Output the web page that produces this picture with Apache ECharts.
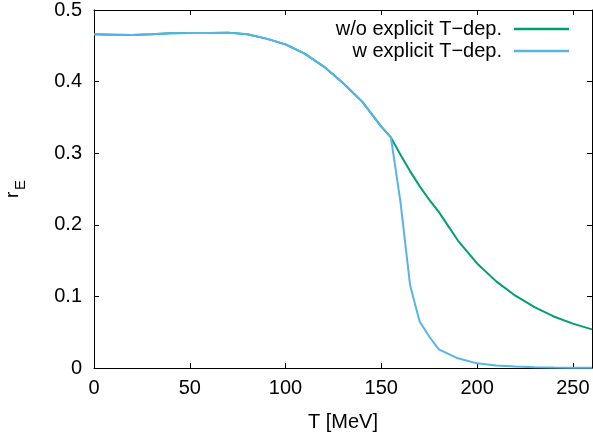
<!DOCTYPE html>
<html>
<head>
<meta charset="utf-8">
<script src="https://cdn.jsdelivr.net/npm/echarts@6/dist/echarts.min.js"></script>
<style>
html,body{margin:0;padding:0;background:#fff;}
#c{width:593px;height:438px;}
</style>
</head>
<body>
<div id="c"></div>
<script>
// Temperature grid (MeV)
var temps = [0, 10, 20, 30, 40, 50, 60, 70, 80, 90, 100, 110, 120, 130, 140, 150, 155, 160, 165, 170, 175, 180, 190, 200, 210, 220, 230, 240, 250, 260];
// r_E without explicit T-dependence
var rWithout = [0.466, 0.4655, 0.465, 0.466, 0.4675, 0.4678, 0.468, 0.4684, 0.466, 0.460, 0.452, 0.439, 0.421, 0.398, 0.372, 0.337, 0.322, 0.298, 0.275, 0.254, 0.235, 0.218, 0.178, 0.146, 0.121, 0.101, 0.085, 0.072, 0.062, 0.054];
// r_E with explicit T-dependence
var rWith = [0.466, 0.4655, 0.465, 0.466, 0.4675, 0.4678, 0.468, 0.4684, 0.466, 0.460, 0.452, 0.439, 0.421, 0.398, 0.372, 0.337, 0.322, 0.232, 0.116, 0.065, 0.044, 0.026, 0.0135, 0.0065, 0.0035, 0.002, 0.0012, 0.0008, 0.0005, 0.0003];
var xTicks = [0, 50, 100, 150, 200, 250];
var yTicks = [0, 0.1, 0.2, 0.3, 0.4, 0.5];
var seriesNames = ['w/o explicit T\u2212dep.', 'w explicit T\u2212dep.'];
var colors = ['#009e73', '#56b4e9'];

function pairs(xs, ys) { return xs.map(function (x, i) { return [x, ys[i]]; }); }

var FONT = 'Liberation Sans, Arial, sans-serif';
var chart = echarts.init(document.getElementById('c'), null, { renderer: 'canvas' });
var axisLineStyle = { show: true, onZero: false, lineStyle: { color: '#000', width: 1 } };
var tickStyle = { color: '#000', width: 1 };
chart.setOption({
  animation: false,
  backgroundColor: '#fff',
  grid: { left: 94, right: 1, top: 9, bottom: 70, show: false },
  legend: {
    orient: 'vertical',
    align: 'right',
    right: 19,
    top: 14,
    icon: 'rect',
    itemWidth: 55,
    itemHeight: 2.5,
    itemGap: 2,
    textStyle: { fontFamily: FONT, fontSize: 20, color: '#000', lineHeight: 20, padding: [0, 7, 0, 0] },
    data: seriesNames
  },
  xAxis: [
    {
      type: 'value', min: 0, max: 260, interval: 50, position: 'bottom',
      name: 'T [MeV]', nameLocation: 'middle', nameGap: 44,
      nameTextStyle: { fontFamily: FONT, fontSize: 20, color: '#000' },
      axisLine: axisLineStyle, splitLine: { show: false },
      axisTick: { show: true, inside: true, length: 5, customValues: xTicks, lineStyle: tickStyle },
      axisLabel: { show: true, margin: 10, customValues: xTicks, fontFamily: FONT, fontSize: 20, color: '#000' }
    },
    {
      type: 'value', min: 0, max: 260, interval: 50, position: 'top',
      axisLine: axisLineStyle, splitLine: { show: false },
      axisTick: { show: true, inside: true, length: 5, customValues: xTicks, lineStyle: tickStyle },
      axisLabel: { show: false }
    }
  ],
  yAxis: [
    {
      type: 'value', min: 0, max: 0.5, interval: 0.1, position: 'left',
      axisLine: axisLineStyle, splitLine: { show: false },
      axisTick: { show: true, inside: true, length: 5, customValues: yTicks, lineStyle: tickStyle },
      axisLabel: { show: true, margin: 12, customValues: yTicks, fontFamily: FONT, fontSize: 20, color: '#000',
        formatter: function (v) { return String(Math.round(v * 10) / 10); } }
    },
    {
      type: 'value', min: 0, max: 0.5, interval: 0.1, position: 'right',
      axisLine: axisLineStyle, splitLine: { show: false },
      axisTick: { show: true, inside: true, length: 5, customValues: yTicks, lineStyle: tickStyle },
      axisLabel: { show: false }
    }
  ],
  series: [
    { name: seriesNames[0], type: 'line', data: pairs(temps, rWithout), symbol: 'none', smooth: false,
      color: colors[0], lineStyle: { color: colors[0], width: 2 }, z: 2 },
    { name: seriesNames[1], type: 'line', data: pairs(temps, rWith), symbol: 'none', smooth: false,
      color: colors[1], lineStyle: { color: colors[1], width: 2 }, z: 3 }
  ],
  graphic: [
    {
      type: 'group', x: 22, y: 198, rotation: Math.PI / 2,
      children: [
        { type: 'text', x: 0, y: 0, style: { text: 'r', font: '19px ' + FONT, fill: '#000', textAlign: 'left', textVerticalAlign: 'bottom' } },
        { type: 'text', x: 8, y: 6, style: { text: 'E', font: '15px ' + FONT, fill: '#000', textAlign: 'left', textVerticalAlign: 'bottom' } }
      ]
    }
  ]
});
</script>
</body>
</html>
